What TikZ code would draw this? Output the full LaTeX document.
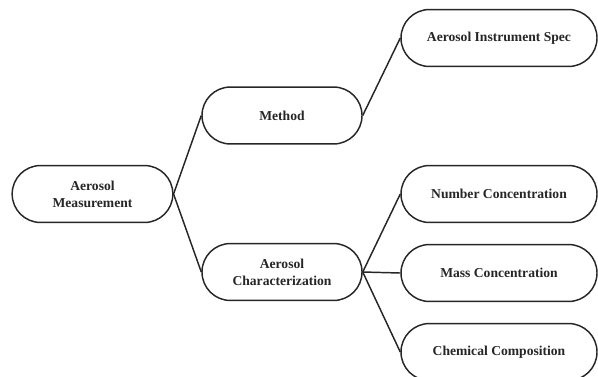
\documentclass[tikz,border=0pt]{standalone}
\usepackage{fontspec}
\setmainfont{Liberation Serif}
\begin{document}
\begin{tikzpicture}[x=0.75pt,y=-0.75pt,
  pill/.style={draw=black!85, line width=1.1pt, rectangle, rounded corners=21.3pt,
    minimum height=42.7pt, align=center, inner sep=0pt,
    font=\fontsize{10.2}{12.8}\selectfont\bfseries, text=black!85},
  link/.style={draw=black!85, line width=1.1pt}]
\clip (0,0) rectangle (598,376);
\node[pill, minimum width=120.5pt] (meas) at (92.5,194) {Aerosol\\Measurement};
\node[pill, minimum width=120pt] (method) at (282,115.5) {Method};
\node[pill, minimum width=120pt] (char) at (282,272) {Aerosol\\Characterization};
\node[pill, minimum width=147pt] (spec) at (499,38) {Aerosol Instrument Spec};
\node[pill, minimum width=147pt] (num) at (499,194) {Number Concentration};
\node[pill, minimum width=147pt] (mass) at (499,273) {Mass Concentration};
\node[pill, minimum width=147pt] (chem) at (499,352) {Chemical Composition};
\draw[link] (meas.east) -- (method.west);
\draw[link] (meas.east) -- (char.west);
\draw[link] (method.east) -- (spec.west);
\draw[link] (char.east) -- (num.west);
\draw[link] (char.east) -- (mass.west);
\draw[link] (char.east) -- (chem.west);
\end{tikzpicture}
\end{document}
